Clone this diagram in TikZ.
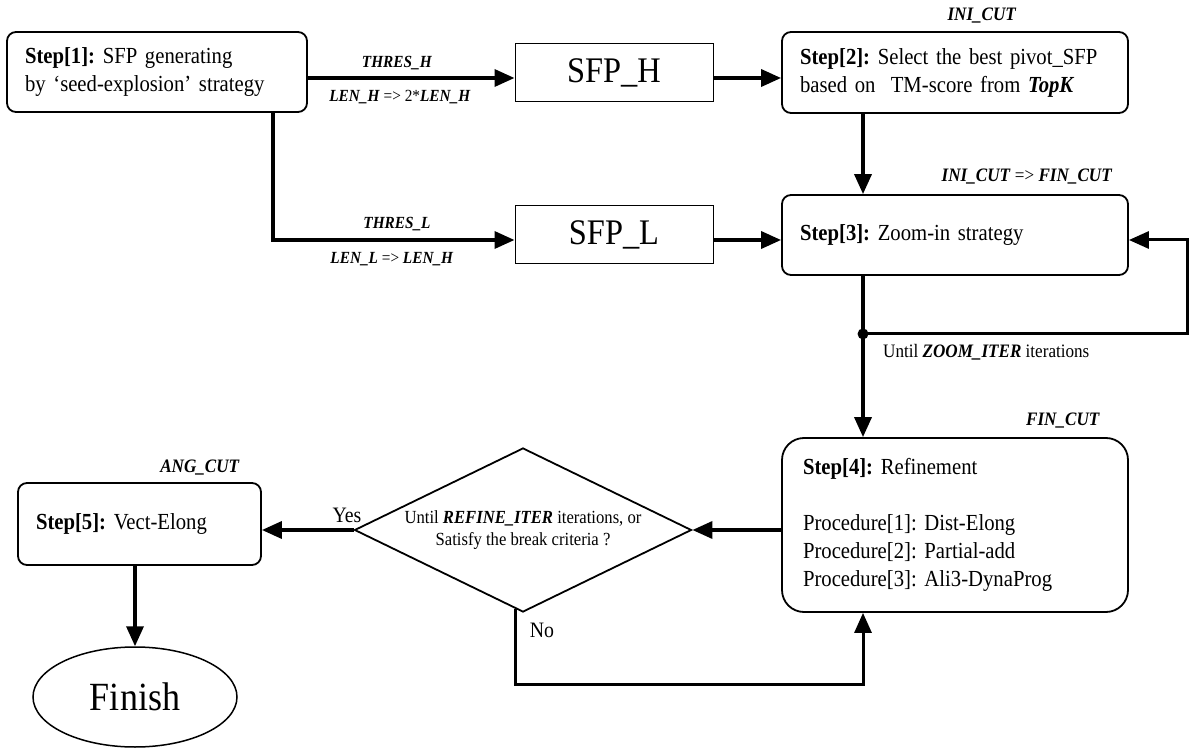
\documentclass[tikz,border=0pt]{standalone}
\usepackage{fontspec}
\setmainfont{Liberation Serif}[FakeStretch=0.9]
\usetikzlibrary{shapes.geometric,arrows.meta,calc}
\frenchspacing
\hyphenpenalty=10000
\begin{document}
\begin{tikzpicture}[x=1pt,y=-1pt,
  stepbox/.style={draw,line width=1.8pt,rounded corners=9pt,align=left,inner xsep=18pt,inner ysep=0pt,font=\fontsize{23}{28}\selectfont},
  sfpbox/.style={draw,line width=1pt,minimum width=198pt,minimum height=58pt,inner sep=0pt,font=\fontsize{36}{40}\selectfont},
  flow/.style={line width=3.5pt,-{Triangle[length=20pt,width=17pt]}},
  plain/.style={line width=3pt},
  lbl/.style={inner sep=0pt,font=\fontsize{17}{20}\selectfont},
  cut/.style={inner sep=0pt,font=\fontsize{19}{22}\selectfont},
  yn/.style={inner sep=0pt,font=\fontsize{22}{24}\selectfont},
]
\useasboundingbox (0,0) rectangle (1189,751);
% boxes
\node[stepbox,text width=264pt,minimum height=80pt] (s1) at (157,72)
  {\textbf{Step[1]:} SFP generating\\by ‘seed-explosion’ strategy};
\node[sfpbox] (sh) at (614,73) {SFP\_H};
\node[stepbox,text width=310pt,minimum height=81pt] (s2) at (955,72.5)
  {\textbf{Step[2]:} Select the best pivot\_SFP\\based on~ TM-score from \textbf{\textit{TopK}}};
\node[sfpbox] (sl) at (614,235) {SFP\_L};
\node[stepbox,text width=310pt,minimum height=80pt] (s3) at (955,235)
  {\textbf{Step[3]:} Zoom-in strategy};
\node[stepbox,rounded corners=22pt,inner xsep=21pt,text width=304pt,minimum height=174pt] (s4) at (955,525)
  {\textbf{Step[4]:} Refinement\\[28pt]Procedure[1]: Dist-Elong\\Procedure[2]: Partial-add\\Procedure[3]: Ali3-DynaProg};
\node[diamond,draw,line width=1.8pt,minimum width=337pt,minimum height=164pt,inner sep=0pt] (dm) at (523,530) {};
\node[align=center,inner sep=0pt,font=\fontsize{18.5}{22}\selectfont] (dmt) at (dm.center)
  {Until \textbf{\textit{REFINE\_ITER}} iterations, or\\Satisfy the break criteria ?};
\node[stepbox,text width=207pt,minimum height=82pt] (s5) at (139.5,524)
  {\textbf{Step[5]:} Vect-Elong};
\node[ellipse,draw,line width=1.5pt,minimum width=204pt,minimum height=100pt,inner sep=0pt,font=\fontsize{40}{44}\selectfont] (fin) at (135,697) {Finish};
% labels
\node[lbl] (thh) at (397,63) {\textbf{\textit{THRES\_H}}};
\node[lbl] (lnh) at (400,97) {\textbf{\textit{LEN\_H}} => 2*\textbf{\textit{LEN\_H}}};
\node[lbl] (thl) at (397,224) {\textbf{\textit{THRES\_L}}};
\node[lbl] (lnl) at (392,259) {\textbf{\textit{LEN\_L}} => \textbf{\textit{LEN\_H}}};
\node[cut] (ini) at (982,16) {\textbf{\textit{INI\_CUT}}};
\node[cut] (inifin) at (1027,177) {\textbf{\textit{INI\_CUT}} => \textbf{\textit{FIN\_CUT}}};
\node[cut] (fcut) at (1063,421) {\textbf{\textit{FIN\_CUT}}};
\node[cut] (acut) at (200,468) {\textbf{\textit{ANG\_CUT}}};
\node[cut,anchor=west] (zit) at (883,352) {Until \textbf{\textit{ZOOM\_ITER}} iterations};
\node[yn] (yes) at (347,515) {Yes};
\node[yn] (no) at (542,630) {No};
% connectors
\draw[flow] ([yshift=-6pt]s1.east) -- ([yshift=-6pt]s1.east -| sh.west);
\draw[flow] ([yshift=-5pt]sh.east) -- ([yshift=-5pt]sh.east -| s2.west);
\draw[flow] ([xshift=116pt]s1.south) |- ([yshift=-5pt]sl.west);
\draw[flow] ([yshift=-5pt]sl.east) -- ([yshift=-5pt]sl.east -| s3.west);
\draw[flow] ([xshift=-92pt]s2.south) -- ([xshift=-92pt]s3.north);
\draw[flow] ([xshift=-92pt]s3.south) -- ([xshift=-92pt]s4.north);
\coordinate (jn) at ([xshift=-92pt,yshift=-58pt]s3.south);
\fill (jn) circle (5.5pt);
\draw[plain,-{Triangle[length=20pt,width=17pt]}] (jn) -- ++(324,0) |- ([yshift=-5pt]s3.east);
\draw[flow] ([yshift=-5pt]s4.west) -- (dm.east);
\draw[flow] (dm.west) -- (dm.west -| s5.east);
\draw[flow] (s5.south -| fin.north) -- (fin.north);
\draw[plain,-{Triangle[length=20pt,width=17pt]}] ([xshift=-8pt,yshift=4pt]dm.south) -- ++(0,76) -| ([xshift=-92pt]s4.south);
\end{tikzpicture}
\end{document}
